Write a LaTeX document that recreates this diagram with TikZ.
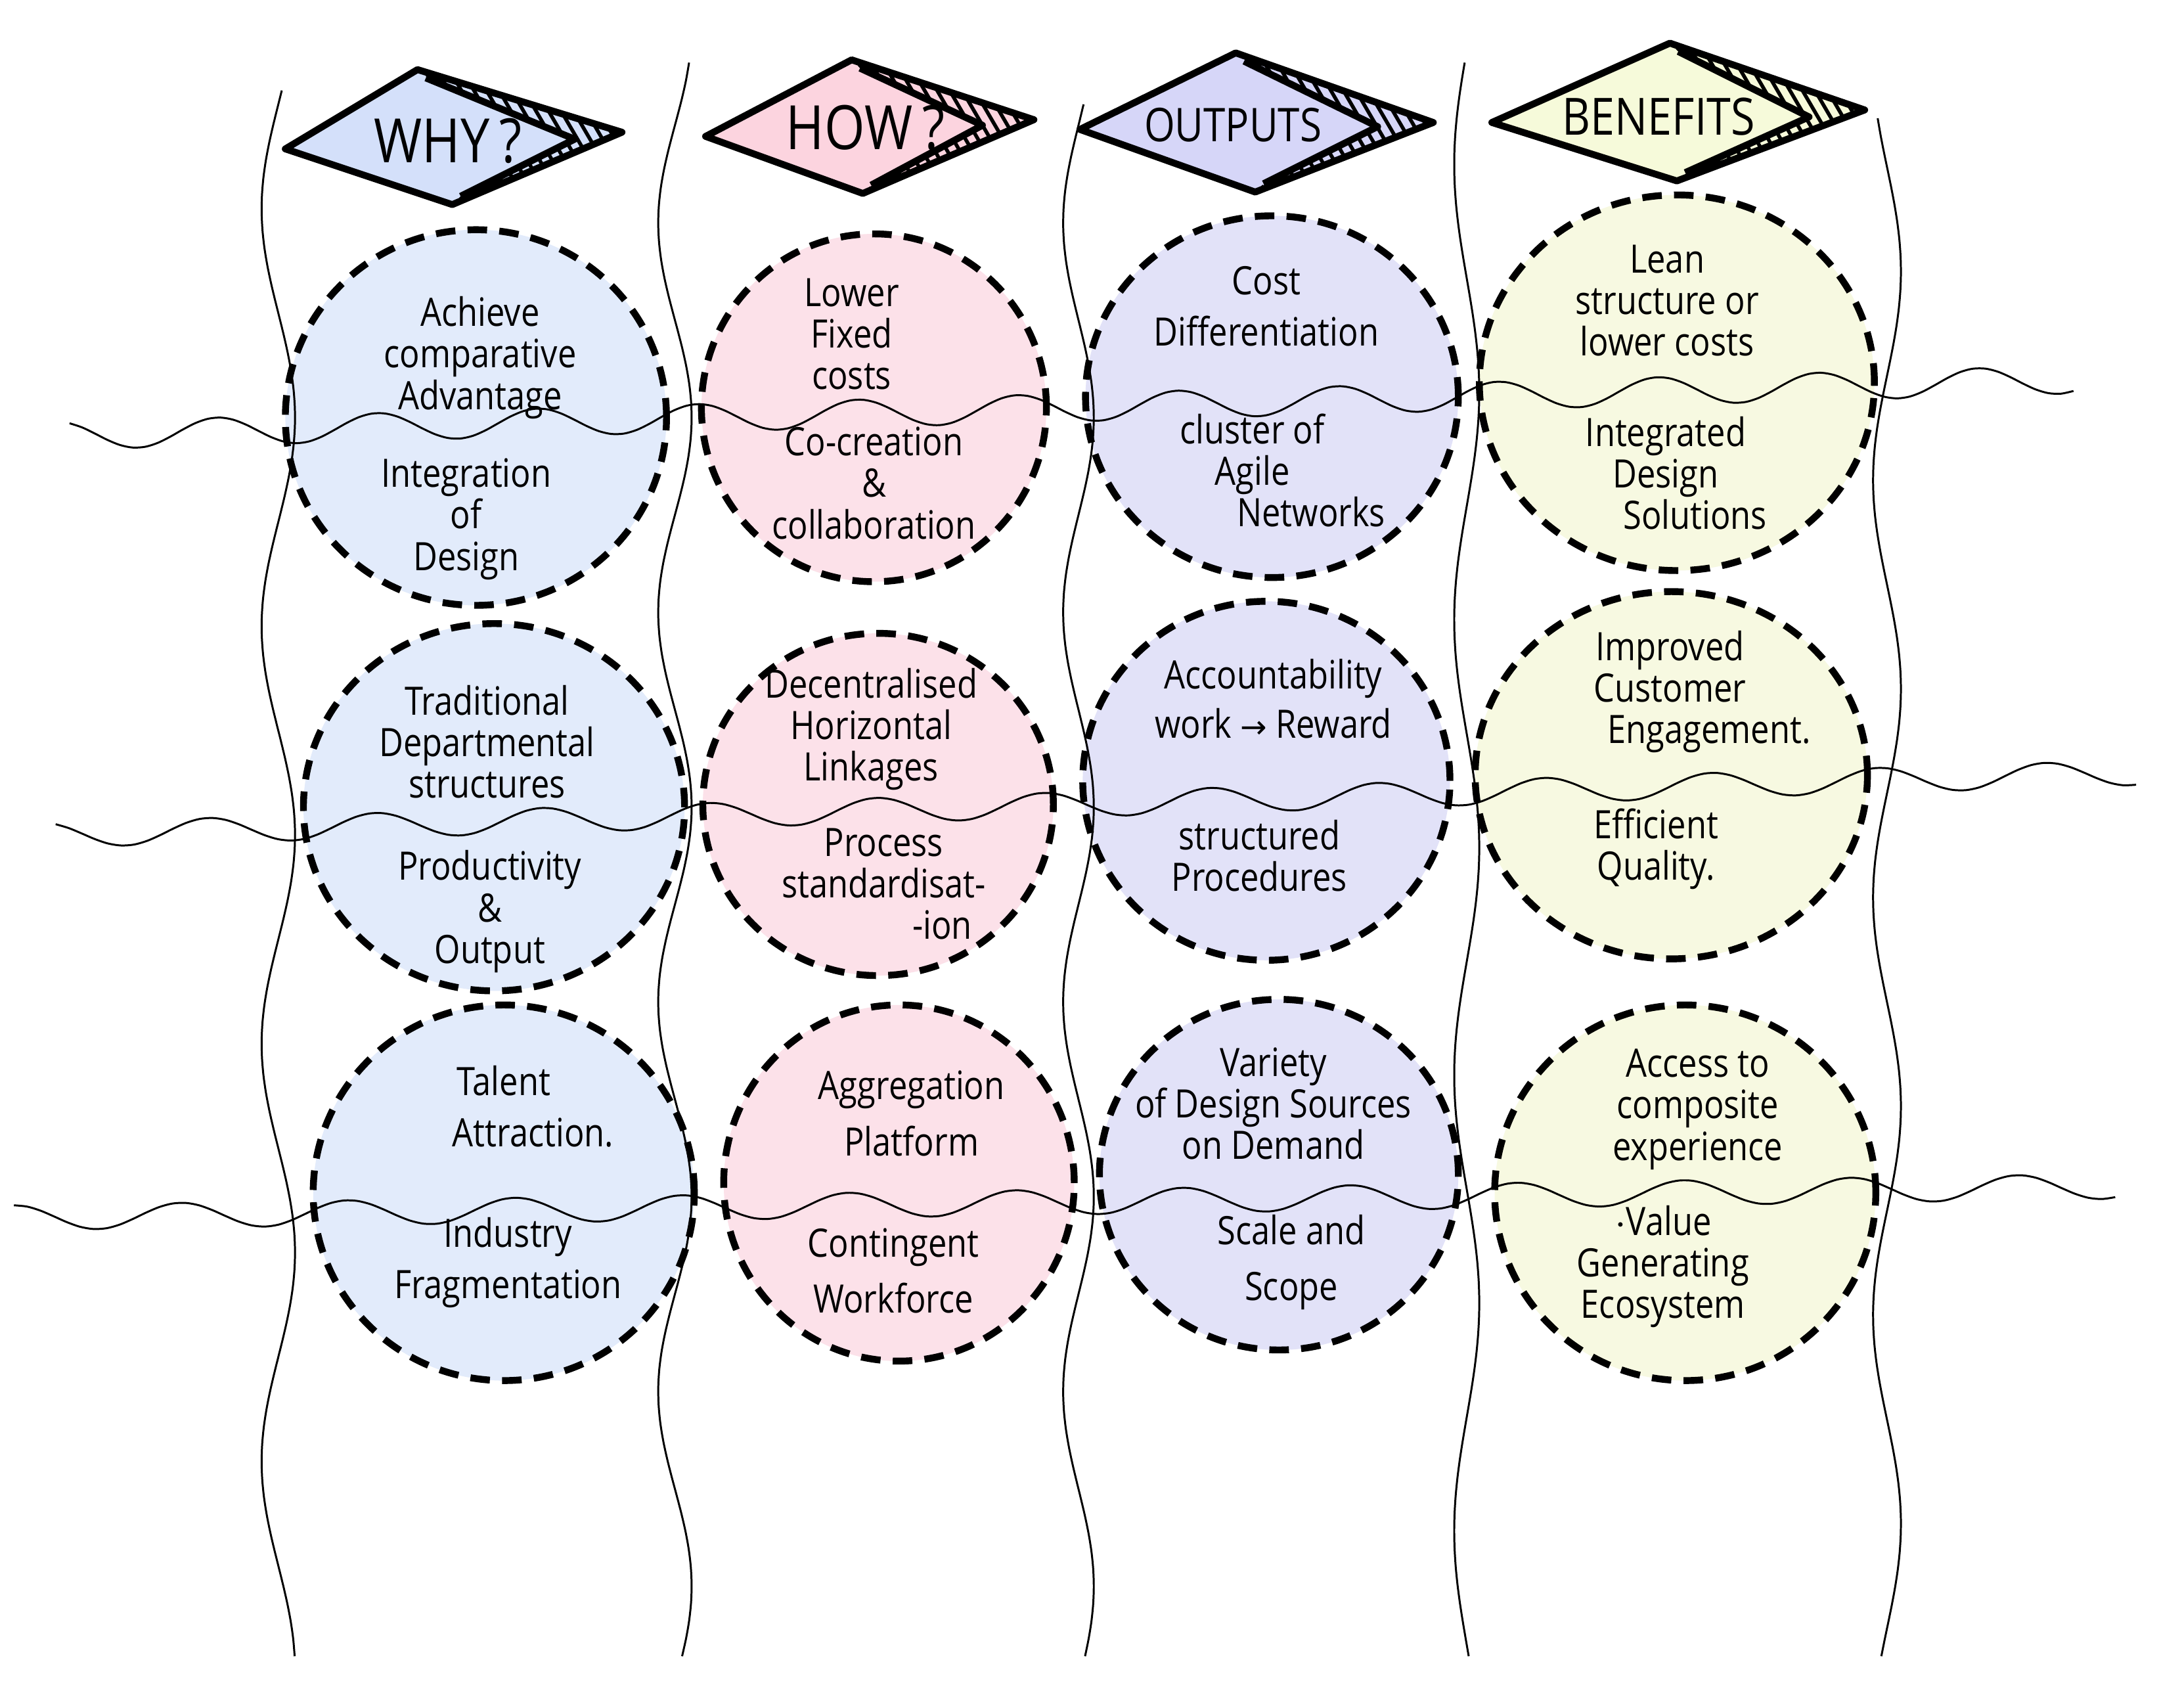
\documentclass[tikz,border=0pt]{standalone}
\usepackage{fontspec}
\setmainfont{Open Sans}
\newfontfamily\hand[FakeStretch=0.85]{Open Sans}
\usetikzlibrary{shapes.geometric}
\definecolor{cwhy}{HTML}{E2EBFB}
\definecolor{chow}{HTML}{FCE1E9}
\definecolor{cout}{HTML}{E2E2F8}
\definecolor{cben}{HTML}{F7F9E1}
\definecolor{dwhy}{HTML}{D4E0FA}
\definecolor{dhow}{HTML}{FCD4DF}
\definecolor{dout}{HTML}{D6D6F8}
\definecolor{dben}{HTML}{F6FADA}
\begin{document}
\begin{tikzpicture}[x=0.02cm,y=-0.02cm,
  blob/.style 2 args={ellipse, draw=black, line width=2.8pt, dash pattern=on 8pt off 5pt,
     minimum width=#1*0.04cm, minimum height=#2*0.04cm, inner sep=0pt},
  txt/.style={align=center, font=\hand\fontsize{16}{17}\selectfont, text=black, inner sep=0pt},
  hdr/.style={font=\hand\fontsize{21}{21}\selectfont, inner sep=0pt},
  wave/.style={line width=0.8pt, black},
  dline/.style={line width=2.8pt, line join=round},
  hatch/.style={line width=1.5pt}
]
\useasboundingbox (0,0) rectangle (1568,1227);
\fill[white] (0,0) rectangle (1568,1227);

% ---------- circles ----------
\node[blob={137}{135}, fill=cwhy] (A) at (342,300) {};
\node[blob={124}{125}, fill=chow] (B) at (628,293) {};
\node[blob={134}{130}, fill=cout] (C) at (914,285) {};
\node[blob={142}{135}, fill=cben] (D) at (1205,275) {};
\node[blob={137}{132}, fill=cwhy] (E) at (355,580) {};
\node[blob={126}{123}, fill=chow] (F) at (631,578) {};
\node[blob={132}{129}, fill=cout] (G) at (910,561) {};
\node[blob={141}{132}, fill=cben] (H) at (1201,557) {};
\node[blob={137}{135}, fill=cwhy] (I) at (362,857) {};
\node[blob={126}{128}, fill=chow] (J) at (646,850) {};
\node[blob={129}{126}, fill=cout] (K) at (919,844) {};
\node[blob={137}{135}, fill=cben] (L) at (1211,857) {};

% ---------- wavy vertical lines ----------
\draw[wave] plot[smooth, variable=\t, domain=65:1190, samples=90] ({200+12*sin((\t-225)*1.2)}, \t);
\draw[wave] plot[smooth, variable=\t, domain=45:1190, samples=90] ({485+12*sin((\t-230)*1.286)}, \t);
\draw[wave] plot[smooth, variable=\t, domain=75:1190, samples=90] ({775+11*sin((\t-230)*1.286)}, \t);
\draw[wave] plot[smooth, variable=\t, domain=45:1190, samples=90] ({1054+9*sin((\t-200)*1.1)}, \t);
\draw[wave] plot[smooth, variable=\t, domain=85:1190, samples=90] ({1356+10*sin((\t-120)*1.2)}, \t);

% ---------- wavy horizontal lines ----------
\draw[wave] plot[smooth, variable=\t, domain=50:1490, samples=160] (\t, {313-(\t-50)*0.028+10*sin((\t-70)*3.13)});
\draw[wave] plot[smooth, variable=\t, domain=40:1535, samples=160] (\t, {600-(\t-40)*0.03+9*sin((\t-60)*3.0)});
\draw[wave] plot[smooth, variable=\t, domain=10:1520, samples=160] (\t, {875-(\t-10)*0.015+9*sin((\t-40)*3.0)});

% ---------- diamonds ----------
% WHY
\coordinate (wL) at (205,107); \coordinate (wT) at (300,50); \coordinate (wT2) at (306,56);
\coordinate (wR) at (413,100); \coordinate (wP) at (447,95); \coordinate (wB) at (325,147);
\coordinate (wB2) at (331,141);
\fill[dwhy] (wL)--(wT)--(wP)--(wB)--cycle;
\begin{scope}
\clip (wT)--(wP)--(wB)--(wB2)--(wR)--(wT2)--cycle;
\foreach \k in {200,209,...,470} \draw[hatch] (\k,40) -- ++(70,120);
\end{scope}
\draw[dline] (wL)--(wT)--(wP)--(wB)--cycle (wT2)--(wR)--(wB2);
\node[hdr, font=\hand\fontsize{25}{25}\selectfont] (why) at (322,101) {WHY\,?};

% HOW
\coordinate (hL) at (507,98); \coordinate (hT) at (612,43); \coordinate (hT2) at (618,49);
\coordinate (hR) at (706,90); \coordinate (hP) at (743,86); \coordinate (hB) at (620,139);
\coordinate (hB2) at (626,133);
\fill[dhow] (hL)--(hT)--(hP)--(hB)--cycle;
\begin{scope}
\clip (hT)--(hP)--(hB)--(hB2)--(hR)--(hT2)--cycle;
\foreach \k in {500,509,...,770} \draw[hatch] (\k,30) -- ++(70,120);
\end{scope}
\draw[dline] (hL)--(hT)--(hP)--(hB)--cycle (hT2)--(hR)--(hB2);
\node[hdr, font=\hand\fontsize{25}{25}\selectfont] (how) at (622,92) {HOW\,?};

% OUTPUTS
\coordinate (oL) at (776,93); \coordinate (oT) at (888,38); \coordinate (oT2) at (894,44);
\coordinate (oR) at (990,91); \coordinate (oP) at (1030,88); \coordinate (oB) at (902,138);
\coordinate (oB2) at (908,132);
\fill[dout] (oL)--(oT)--(oP)--(oB)--cycle;
\begin{scope}
\clip (oT)--(oP)--(oB)--(oB2)--(oR)--(oT2)--cycle;
\foreach \k in {780,789,...,1060} \draw[hatch] (\k,25) -- ++(70,120);
\end{scope}
\draw[dline] (oL)--(oT)--(oP)--(oB)--cycle (oT2)--(oR)--(oB2);
\node[hdr, font=\hand\fontsize{19}{19}\selectfont] (out) at (886,90) {OUTPUTS};

% BENEFITS
\coordinate (bL) at (1072,88); \coordinate (bT) at (1200,31); \coordinate (bT2) at (1206,37);
\coordinate (bR) at (1300,84); \coordinate (bP) at (1340,79); \coordinate (bB) at (1205,130);
\coordinate (bB2) at (1211,124);
\fill[dben] (bL)--(bT)--(bP)--(bB)--cycle;
\begin{scope}
\clip (bT)--(bP)--(bB)--(bB2)--(bR)--(bT2)--cycle;
\foreach \k in {1080,1089,...,1370} \draw[hatch] (\k,20) -- ++(70,120);
\end{scope}
\draw[dline] (bL)--(bT)--(bP)--(bB)--cycle (bT2)--(bR)--(bB2);
\node[hdr] (ben) at (1192,84) {BENEFITS};

% ---------- texts ----------
\node[txt] (A1) at (345,257) {Achieve\\comparative\\Advantage};
\node[txt] (A2) at (335,373) {Integration\\of\\Design};
\node[txt] (B1) at (612,240) {Lower\\Fixed\\costs};
\node[txt] (B2) at (628,347) {Co-creation\\\&\\collaboration};
\node[txt] (C1) at (910,220) {Cost\\[4pt]Differentiation};
\node[txt] (C2) at (900,338) {cluster of\\Agile\hspace{3.5em}\\\hspace{3em}Networks};
\node[txt] (D1) at (1198,216) {Lean\\structure or\\lower costs};
\node[txt] (D2) at (1197,340) {Integrated\\Design\\\hspace{1.5em}Solutions};
\node[txt] (E1) at (350,533) {Traditional\\Departmental\\structures};
\node[txt] (E2) at (352,655) {Productivity\\\&\\Output};
\node[txt] (F1) at (626,524) {Decentralised\\Horizontal\\Linkages};
\node[txt] (F2) at (635,635) {Process\\standardisat-\\\hspace{3em}-ion};
\node[txt] (G1) at (915,502) {Accountability\\[3pt]work {\fontspec{DejaVu Sans}\fontsize{13}{13}\selectfont →} Reward};
\node[txt] (G2) at (905,615) {structured\\Procedures};
\node[txt] (H1) at (1200,497) {Improved\\Customer\\\hspace{2em}Engagement.};
\node[txt] (H2) at (1190,610) {Efficient\\Quality.};
\node[txt] (I1) at (362,795) {Talent\\[4pt]\hspace{1.5em}Attraction.};
\node[txt] (I2) at (365,907) {Industry\\[4pt]Fragmentation};
\node[txt] (J1) at (655,800) {Aggregation\\[6pt]Platform};
\node[txt] (J2) at (642,913) {Contingent\\[6pt]Workforce};
\node[txt] (K1) at (915,793) {Variety\\of Design Sources\\on Demand};
\node[txt] (K2) at (928,907) {Scale and\\[6pt]Scope};
\node[txt] (L1) at (1220,797) {Access to\\composite\\experience};
\node[txt] (L2) at (1195,910) {$\cdot$Value\\Generating\\Ecosystem};
\end{tikzpicture}
\end{document}
